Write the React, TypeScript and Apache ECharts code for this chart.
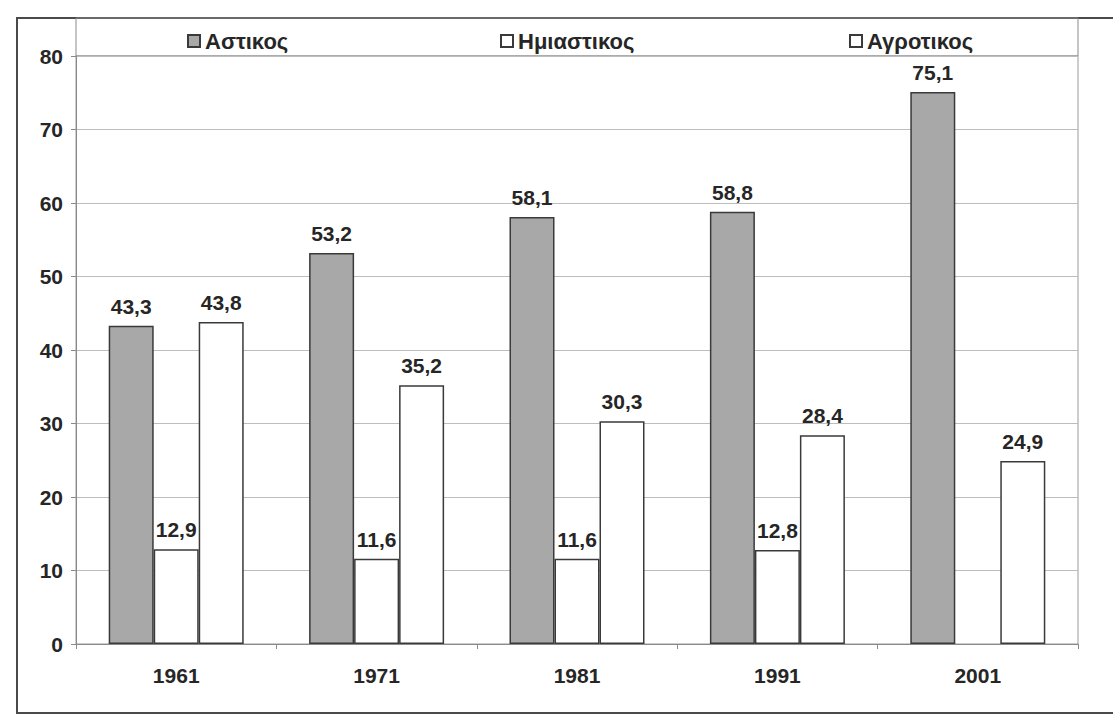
import React, { useEffect, useRef } from "react";
import * as echarts from "echarts";

const categories = ["1961", "1971", "1981", "1991", "2001"];
const seriesNames = ["Αστικος", "Ημιαστικος", "Αγροτικος"];
const astikos = [43.3, 53.2, 58.1, 58.8, 75.1];
const imiastikos: (number | string)[] = [12.9, 11.6, 11.6, 12.8, "-"];
const agrotikos = [43.8, 35.2, 30.3, 28.4, 24.9];
const yTicks = { min: 0, max: 80, interval: 10 };

const FONT = "'Liberation Sans', Arial, sans-serif";
const TEXT = "#262626";
const EDGE = "#3a3a3a";

export default function App() {
  const ref = useRef<HTMLDivElement>(null);

  useEffect(() => {
    if (!ref.current) return;
    const chart = echarts.init(ref.current, null, { renderer: "svg" });
    const gridLeft = 76;
    const gridTop = 56;
    const gridWidth = 1002;
    const gridHeight = 588;

    const label = {
      show: true,
      position: "top",
      distance: 9,
      fontFamily: FONT,
      fontWeight: "bold",
      fontSize: 21,
      color: TEXT,
      formatter: (p: any) =>
        typeof p.value === "number" ? p.value.toFixed(1).replace(".", ",") : "",
    };

    const legendBase = {
      top: 25,
      icon: "rect",
      itemWidth: 12,
      itemHeight: 12,
      itemGap: 10,
      textStyle: {
        fontFamily: FONT,
        fontWeight: "bold",
        fontSize: 22,
        color: TEXT,
        padding: [0, 0, 0, 0],
      },
    };

    chart.setOption({
      animation: false,
      backgroundColor: "#ffffff",
      textStyle: { fontFamily: FONT },
      grid: {
        left: gridLeft,
        top: gridTop,
        width: gridWidth,
        height: gridHeight,
        show: true,
        borderColor: "#9a9a9a",
        borderWidth: 1,
        backgroundColor: "transparent",
      },
      legend: [
        { ...legendBase, left: 182, data: [seriesNames[0]] },
        { ...legendBase, left: 495, data: [seriesNames[1]] },
        { ...legendBase, left: 844, data: [seriesNames[2]] },
      ],
      xAxis: {
        type: "category",
        data: categories,
        axisLine: { show: true, lineStyle: { color: "#8a8a8a", width: 1 } },
        axisTick: { show: true, length: 5, lineStyle: { color: "#8a8a8a" } },
        axisLabel: {
          margin: 21,
          fontFamily: FONT,
          fontWeight: "bold",
          fontSize: 21,
          color: TEXT,
        },
        splitLine: { show: false },
      },
      yAxis: {
        type: "value",
        min: yTicks.min,
        max: yTicks.max,
        interval: yTicks.interval,
        axisLine: { show: true, lineStyle: { color: "#8a8a8a", width: 1 } },
        axisTick: { show: true, length: 5, lineStyle: { color: "#8a8a8a" } },
        axisLabel: {
          margin: 13,
          fontFamily: FONT,
          fontWeight: "bold",
          fontSize: 21,
          color: TEXT,
        },
        splitLine: { show: true, lineStyle: { color: "#bdbdbd", width: 1 } },
      },
      series: [
        {
          name: seriesNames[0],
          type: "bar",
          data: astikos,
          barWidth: 45,
          barGap: "0%",
          itemStyle: { color: "#a8a8a8", borderColor: EDGE, borderWidth: 1.5 },
          label,
        },
        {
          name: seriesNames[1],
          type: "bar",
          data: imiastikos,
          barWidth: 45,
          barGap: "0%",
          itemStyle: { color: "#ffffff", borderColor: EDGE, borderWidth: 1.5 },
          label,
        },
        {
          name: seriesNames[2],
          type: "bar",
          data: agrotikos,
          barWidth: 45,
          barGap: "0%",
          itemStyle: { color: "#ffffff", borderColor: EDGE, borderWidth: 1.5 },
          label,
        },
      ],
      graphic: [
        {
          type: "rect",
          silent: true,
          shape: { x: 17, y: 18, width: 1130, height: 695 },
          style: { fill: "none", stroke: "#4a4a4a", lineWidth: 2 },
        },
        {
          type: "rect",
          silent: true,
          shape: { x: gridLeft, y: 18, width: gridWidth, height: gridTop - 18 },
          style: { fill: "none", stroke: "#8a8a8a", lineWidth: 1 },
        },
      ],
    });

    return () => chart.dispose();
  }, []);

  return (
    <div
      ref={ref}
      style={{ position: "fixed", left: 0, top: 0, width: 1113, height: 717, background: "#fff" }}
    />
  );
}
